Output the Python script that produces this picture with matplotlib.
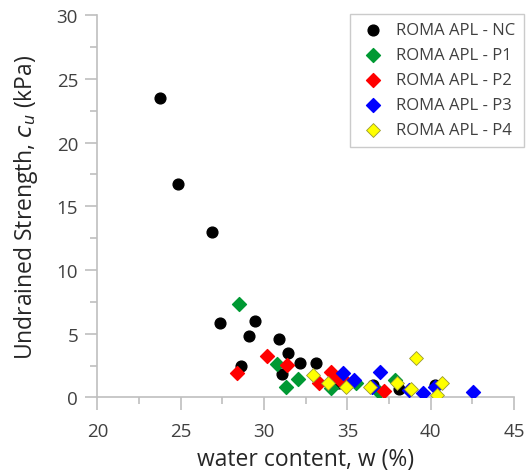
import matplotlib.pyplot as plt
from matplotlib.ticker import MultipleLocator

plt.rcParams['font.family'] = ['Open Sans', 'DejaVu Sans']

# water content w (%) and undrained strength cu (kPa) per series
nc_w = [23.78, 24.82, 26.87, 27.35, 29.43, 29.09, 30.87, 28.59, 31.43, 32.14,
        33.14, 31.07, 34.48, 36.51, 38.07, 40.27]
nc_cu = [23.5, 16.76, 13.0, 5.85, 5.98, 4.83, 4.59, 2.50, 3.49, 2.73,
         2.73, 1.82, 1.14, 0.98, 0.67, 0.98]

p1_w = [28.47, 30.79, 32.02, 31.33, 34.02, 35.51, 36.92, 37.87]
p1_cu = [7.34, 2.63, 1.45, 0.80, 0.72, 1.14, 0.41, 1.40]

p2_w = [28.37, 30.15, 31.39, 33.32, 34.02, 34.48, 34.92, 37.17]
p2_cu = [1.90, 3.28, 2.55, 1.14, 2.0, 1.45, 1.19, 0.53]

p3_w = [34.76, 35.42, 36.93, 36.46, 38.67, 39.55, 40.27, 42.54]
p3_cu = [1.92, 1.40, 1.98, 0.80, 0.59, 0.35, 0.80, 0.46]

p4_w = [32.93, 33.82, 34.92, 36.36, 37.95, 38.83, 39.13, 40.67, 40.37]
p4_cu = [1.79, 1.16, 0.85, 0.80, 1.14, 0.67, 3.08, 1.11, 0.22]

fig = plt.figure(figsize=(5.31, 4.77), dpi=100)
ax = fig.add_axes([0.1836, 0.1646, 0.7845, 0.8018])

ax.scatter(nc_w, nc_cu, s=60, marker='o', color='black', label='ROMA APL - NC', zorder=3)
ax.scatter(p1_w, p1_cu, s=50, marker='D', color='#009933', label='ROMA APL - P1', zorder=3)
ax.scatter(p2_w, p2_cu, s=50, marker='D', color='#FF0000', label='ROMA APL - P2', zorder=3)
ax.scatter(p3_w, p3_cu, s=50, marker='D', color='#0000FF', label='ROMA APL - P3', zorder=3)
ax.scatter(p4_w, p4_cu, s=50, marker='D', color='#FFFF00', edgecolor='#999933',
           linewidth=0.6, label='ROMA APL - P4', zorder=3)

ax.set_xlim(20, 45)
ax.set_ylim(0, 30)
ax.xaxis.set_major_locator(MultipleLocator(5))
ax.xaxis.set_minor_locator(MultipleLocator(2.5))
ax.yaxis.set_major_locator(MultipleLocator(5))
ax.yaxis.set_minor_locator(MultipleLocator(2.5))

grey = '#BFBFBF'
for side in ['top', 'right']:
    ax.spines[side].set_visible(False)
for side in ['left', 'bottom']:
    ax.spines[side].set_color(grey)
    ax.spines[side].set_linewidth(1.2)
ax.tick_params(which='major', direction='out', length=9, width=1.2, color=grey,
               labelsize=13.5, labelcolor='#404040')
ax.tick_params(axis='x', which='major', pad=9)
ax.tick_params(axis='y', which='major', pad=5)
ax.tick_params(which='minor', direction='out', length=5, width=1.2, color=grey)

ax.set_xlabel('water content, w (%)', fontsize=16.5, color='#262626', labelpad=5)
ax.set_ylabel('Undrained Strength, $c_u$ (kPa)', fontsize=16.5, color='#262626', labelpad=12)

leg = ax.legend(loc='upper right', bbox_to_anchor=(1.024, 1.003), fontsize=12,
                frameon=True, fancybox=False, edgecolor='#BFBFBF',
                handlelength=1.76, handletextpad=0.5, borderpad=0.5,
                labelspacing=0.54, borderaxespad=0)
leg.get_frame().set_linewidth(1.0)
for t in leg.get_texts():
    t.set_color('#404040')

fig.savefig('out.png', dpi=100)
